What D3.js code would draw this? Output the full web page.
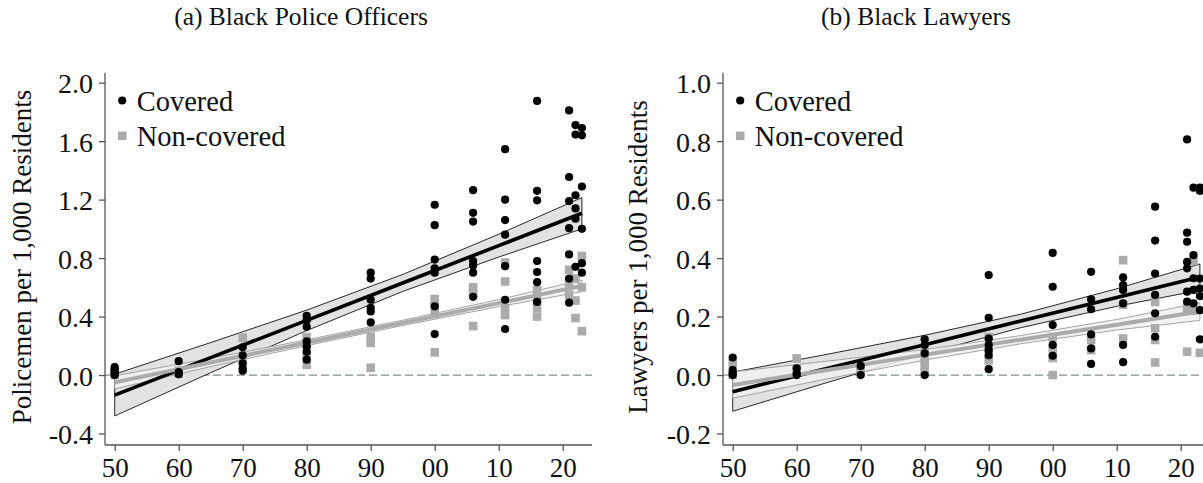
<!DOCTYPE html>
<html>
<head>
<meta charset="utf-8">
<script src="https://cdn.jsdelivr.net/npm/d3@7/dist/d3.min.js"></script>
<style>
  html, body { margin: 0; padding: 0; background: #fff; }
  svg { display: block; }
  text { font-family: "Liberation Serif", "Times New Roman", serif; fill: #111; }
</style>
</head>
<body>
<svg id="chart" width="1203" height="483"></svg>
<script>
// Census / ACS years on the horizontal axis
const years = [1950, 1960, 1970, 1980, 1990, 2000, 2006, 2011, 2016, 2021, 2022, 2023];
const xTicks = [1950, 1960, 1970, 1980, 1990, 2000, 2010, 2020];

// Panel (a): Black police officers per 1,000 residents, one list per year
const policeCovered = [
  [0.055, 0.04, 0.025, 0.01, 0.0],
  [0.095, 0.02, 0.005],
  [0.19, 0.135, 0.08, 0.045, 0.03],
  [0.405, 0.375, 0.33, 0.23, 0.195, 0.16, 0.105],
  [0.70, 0.66, 0.515, 0.46, 0.435, 0.36],
  [1.165, 1.025, 0.79, 0.73, 0.70, 0.47, 0.28],
  [1.265, 1.11, 1.05, 0.78, 0.75, 0.70, 0.535],
  [1.545, 1.20, 1.06, 0.96, 0.745, 0.515, 0.315],
  [1.875, 1.26, 1.195, 0.78, 0.705, 0.635, 0.50],
  [1.81, 1.355, 1.19, 1.005, 0.825, 0.66, 0.495],
  [1.71, 1.645, 1.23, 1.14, 1.07, 0.74],
  [1.69, 1.64, 1.29, 1.0, 0.765, 0.70]
];
const policeNonCovered = [
  [0.02, 0.0],
  [0.03, 0.01],
  [0.255, 0.10],
  [0.26, 0.21, 0.13, 0.07],
  [0.26, 0.22, 0.05],
  [0.52, 0.47, 0.42, 0.155],
  [0.60, 0.56, 0.335],
  [0.77, 0.64, 0.46, 0.41],
  [0.58, 0.52, 0.46, 0.40],
  [0.72, 0.63, 0.55],
  [0.66, 0.51, 0.39],
  [0.815, 0.60, 0.30]
];

// Panel (b): Black lawyers per 1,000 residents
const lawyersCovered = [
  [0.06, 0.017, 0.006, 0.0],
  [0.023, 0.005, 0.0],
  [0.031, 0.0],
  [0.122, 0.103, 0.074, 0.0],
  [0.342, 0.196, 0.125, 0.103, 0.085, 0.068, 0.02],
  [0.418, 0.302, 0.171, 0.103, 0.066],
  [0.353, 0.259, 0.225, 0.139, 0.091, 0.038],
  [0.334, 0.308, 0.291, 0.245, 0.103, 0.044],
  [0.576, 0.46, 0.347, 0.274, 0.211, 0.131],
  [0.806, 0.487, 0.456, 0.387, 0.365, 0.285, 0.251],
  [0.641, 0.41, 0.331, 0.291, 0.245],
  [0.641, 0.63, 0.33, 0.296, 0.27, 0.222, 0.122]
];
const lawyersNonCovered = [
  [0.04, 0.0],
  [0.057, 0.02],
  [0.02, 0.01],
  [0.08, 0.05, 0.03, 0.01],
  [0.13, 0.09, 0.05],
  [0.13, 0.09, 0.058, 0.0],
  [0.12, 0.085],
  [0.393, 0.24, 0.125],
  [0.25, 0.16, 0.12, 0.043],
  [0.23, 0.08],
  [0.39, 0.22],
  [0.076]
];

// Linear fits with 95% confidence bands, evaluated at these years
const fitYears = [1950, 1965, 1980, 1995, 2010, 2023];
const policeCovFit = [-0.137, 0.119, 0.374, 0.630, 0.885, 1.107];
const policeCovLo  = [-0.280, 0.016, 0.304, 0.572, 0.807, 1.000];
const policeCovHi  = [0.006, 0.222, 0.444, 0.688, 0.963, 1.214];
const policeNonFit = [-0.050, 0.086, 0.221, 0.357, 0.492, 0.610];
const policeNonLo  = [-0.095, 0.058, 0.201, 0.339, 0.468, 0.570];
const policeNonHi  = [-0.005, 0.114, 0.241, 0.375, 0.516, 0.650];

const lawyersCovFit = [-0.057, 0.024, 0.104, 0.185, 0.265, 0.335];
const lawyersCovLo  = [-0.124, -0.024, 0.072, 0.162, 0.235, 0.290];
const lawyersCovHi  = [0.010, 0.072, 0.136, 0.208, 0.295, 0.380];
const lawyersNonFit = [-0.034, 0.018, 0.069, 0.121, 0.172, 0.217];
const lawyersNonLo  = [-0.079, -0.012, 0.051, 0.107, 0.154, 0.187];
const lawyersNonHi  = [0.011, 0.048, 0.087, 0.135, 0.190, 0.247];

const policeTicks = [-0.4, 0.0, 0.4, 0.8, 1.2, 1.6, 2.0];
const lawyersTicks = [-0.2, 0.0, 0.2, 0.4, 0.6, 0.8, 1.0];

const svg = d3.select("#chart");
const GREY = "#ababab";
const AXIS = "#555";

function panel(cfg) {
  const g = svg.append("g");
  const x = d3.scaleLinear().domain([1950, 2020]).range([cfg.x0, cfg.x0 + 448]);
  const y = d3.scaleLinear().domain([cfg.ticks[0], cfg.ticks[cfg.ticks.length - 1]]).range([433.5, 82.7]);
  const axisLeftX = cfg.x0 - 9.7;
  const axisBottomY = 445;

  // title
  g.append("text").attr("x", cfg.titleX).attr("y", 25)
    .attr("text-anchor", "middle").style("font-size", "25.5px").text(cfg.title);

  // y axis title
  g.append("text")
    .attr("transform", `translate(${cfg.yTitleX},${257}) rotate(-90)`)
    .attr("text-anchor", "middle").attr("dy", "0.35em")
    .style("font-size", "27px").text(cfg.yTitle);

  // zero reference line
  g.append("line")
    .attr("x1", axisLeftX).attr("x2", cfg.xEnd)
    .attr("y1", y(0)).attr("y2", y(0))
    .attr("stroke", "#7b928f").attr("stroke-width", 1.2)
    .attr("stroke-dasharray", "8,4");

  // axes
  const yAxis = d3.axisLeft(y).tickValues(cfg.ticks).tickSize(6).tickPadding(6)
    .tickFormat(d => d.toFixed(1));
  const ya = g.append("g").attr("transform", `translate(${axisLeftX},0)`).call(yAxis);
  const xAxis = d3.axisBottom(x).tickValues(xTicks).tickSize(6).tickPadding(6)
    .tickFormat(d => String(d % 100).padStart(2, "0"));
  const xa = g.append("g").attr("transform", `translate(0,${axisBottomY})`).call(xAxis);
  [ya, xa].forEach(a => {
    a.select(".domain").remove();
    a.selectAll(".tick line").attr("stroke", AXIS).attr("stroke-width", 1.3);
    a.selectAll(".tick text").style("font-size", "28px")
      .style("font-family", '"Liberation Serif", serif').attr("fill", "#111");
  });
  ya.selectAll(".tick text").attr("dy", "0.36em");
  // x labels placed by baseline so the glyph box stays inside the frame
  xa.selectAll(".tick text").attr("y", 31.5).attr("dy", null).style("font-size", "27px");
  g.append("line").attr("x1", axisLeftX).attr("x2", axisLeftX)
    .attr("y1", 72.7).attr("y2", axisBottomY).attr("stroke", AXIS).attr("stroke-width", 1.3);
  g.append("line").attr("x1", axisLeftX).attr("x2", cfg.xEnd)
    .attr("y1", axisBottomY).attr("y2", axisBottomY).attr("stroke", AXIS).attr("stroke-width", 1.3);

  // confidence bands and fitted lines
  const line = d3.line().x((d, i) => x(fitYears[i])).y(d => y(d));
  const bandPoly = (lo, hi) => {
    const pts = fitYears.map((yr, i) => [x(yr), y(hi[i])])
      .concat(fitYears.map((yr, i) => [x(yr), y(lo[i])]).reverse());
    return "M" + pts.map(p => p.join(",")).join("L") + "Z";
  };

  g.append("path").attr("d", bandPoly(cfg.covLo, cfg.covHi))
    .attr("fill", "#e2e2e2").attr("stroke", "#111").attr("stroke-width", 0.9);
  g.append("path").attr("d", bandPoly(cfg.nonLo, cfg.nonHi))
    .attr("fill", "#f1f1f1").attr("fill-opacity", 0.85)
    .attr("stroke", "#9a9a9a").attr("stroke-width", 0.9);
  g.append("path").attr("d", line(cfg.covFit))
    .attr("fill", "none").attr("stroke", "#000").attr("stroke-width", 3.6);
  g.append("path").attr("d", line(cfg.nonFit))
    .attr("fill", "none").attr("stroke", GREY).attr("stroke-width", 4);

  // non-covered (grey squares)
  const nonPts = cfg.non.flatMap((vals, i) => vals.map(v => ({ yr: years[i], v })));
  g.append("g").selectAll("rect").data(nonPts).join("rect")
    .attr("x", d => x(d.yr) - 4.3).attr("y", d => y(d.v) - 4.3)
    .attr("width", 8.6).attr("height", 8.6).attr("fill", GREY);

  // covered (black dots)
  const covPts = cfg.cov.flatMap((vals, i) => vals.map(v => ({ yr: years[i], v })));
  g.append("g").selectAll("circle").data(covPts).join("circle")
    .attr("cx", d => x(d.yr)).attr("cy", d => y(d.v)).attr("r", 4.1).attr("fill", "#000");

  // legend
  const lx = cfg.x0 + 7.5;
  g.append("circle").attr("cx", lx).attr("cy", 100.5).attr("r", 4.1).attr("fill", "#000");
  g.append("text").attr("x", lx + 14.5).attr("y", 111).style("font-size", "28.5px").text("Covered");
  g.append("rect").attr("x", lx - 4.3).attr("y", 131.5).attr("width", 8.6).attr("height", 8.6).attr("fill", GREY);
  g.append("text").attr("x", lx + 14.5).attr("y", 146).style("font-size", "28.5px").text("Non-covered");
}

panel({
  x0: 114.7, xEnd: 592, titleX: 301, yTitleX: 22,
  title: "(a) Black Police Officers",
  yTitle: "Policemen per 1,000 Residents",
  ticks: policeTicks,
  cov: policeCovered, non: policeNonCovered,
  covFit: policeCovFit, covLo: policeCovLo, covHi: policeCovHi,
  nonFit: policeNonFit, nonLo: policeNonLo, nonHi: policeNonHi
});

panel({
  x0: 732.7, xEnd: 1203, titleX: 916, yTitleX: 638,
  title: "(b) Black Lawyers",
  yTitle: "Lawyers per 1,000 Residents",
  ticks: lawyersTicks,
  cov: lawyersCovered, non: lawyersNonCovered,
  covFit: lawyersCovFit, covLo: lawyersCovLo, covHi: lawyersCovHi,
  nonFit: lawyersNonFit, nonLo: lawyersNonLo, nonHi: lawyersNonHi
});
</script>
</body>
</html>
